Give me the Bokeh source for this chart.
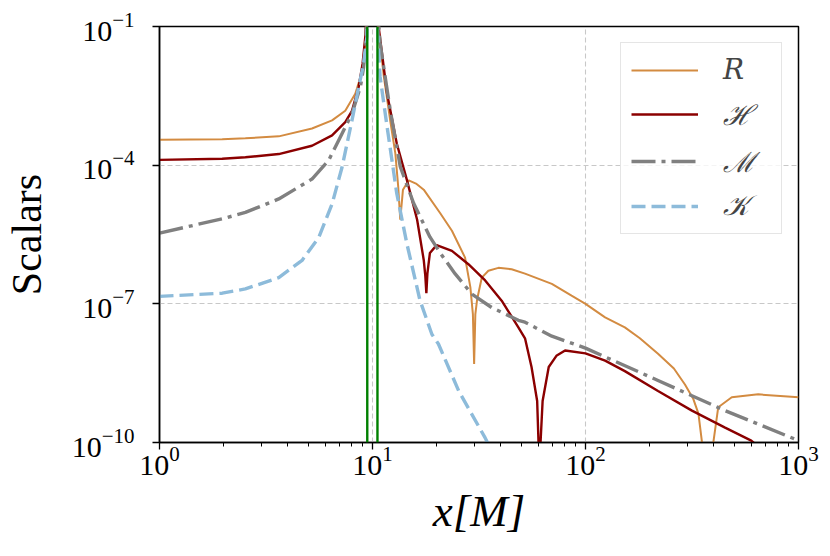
from bokeh.plotting import figure
from bokeh.models import FixedTicker, LogTickFormatter, Span, Legend, LegendItem
from bokeh.embed import file_html
from bokeh.resources import INLINE

# ---- data ----
r_x = [1.0, 1.97, 2.53, 3.63, 5.2, 6.46, 7.45, 8.3, 8.77, 9.08, 9.3, 9.45, 9.5,
       10.5, 10.65, 11.3, 12.1, 12.8, 13.2, 13.5, 13.9, 14.8, 16.0, 17.4, 20.8, 23.6, 27.2,
       28.8, 29.6, 30.0, 30.4, 31.0, 32.6, 35.0, 39.0, 45.0, 52.0, 69.5, 86.0, 100.0, 123.6,
       153.0, 180.0, 219.0, 260.0, 293.0, 320.0, 339.0, 364.0, 384.0, 420.0, 486.0, 647.0,
       1000.0]
r_y = [3.55e-4, 3.65e-4, 3.8e-4, 4.2e-4, 6.2e-4, 9.3e-4, 1.5e-3, 3.5e-3, 7.9e-3, 1.8e-2, 5.0e-2,
       0.3, 1.0,
       1.0, 1.0e-1, 8.3e-3, 9.5e-4, 1.8e-4, 3.5e-5, 6.6e-6, 2.95e-5, 4.7e-5, 4.0e-5, 2.95e-5,
       9.1e-6, 3.8e-6, 1.0e-6, 2.3e-7, 6.0e-8, 5.0e-9, 6.0e-8, 1.26e-7, 3.7e-7, 5.2e-7, 6.0e-7,
       5.6e-7, 4.5e-7, 2.7e-7, 1.5e-7, 1.0e-7, 5.1e-8, 3.1e-8, 1.8e-8, 8.3e-9, 4.0e-9, 1.8e-9,
       9.0e-10, 4.2e-10, 3.0e-11, 3.0e-11, 5.8e-10, 9.5e-10, 1.1e-9, 9.5e-10]

h_x = [1.0, 1.97, 2.53, 3.63, 5.2, 6.46, 7.45, 8.01, 8.61, 8.98, 9.25, 9.4, 9.5,
       10.5, 10.68, 11.7, 13.0, 14.5, 16.2, 17.4, 17.7, 17.9, 18.1, 18.6, 20.0, 23.6, 28.2,
       33.8, 40.4, 48.4, 52.0, 55.8, 59.3, 60.7, 62.9, 67.2, 73.0, 80.2, 100.0, 123.6, 153.0,
       219.0, 316.0, 452.0, 600.0, 650.0]
h_y = [1.3e-4, 1.38e-4, 1.48e-4, 1.74e-4, 2.63e-4, 4.4e-4, 8.5e-4, 1.5e-3, 4.9e-3, 1.55e-2,
       6.0e-2, 0.3, 1.0,
       1.0, 1.0e-1, 3.6e-3, 2.95e-4, 4.8e-5, 6.6e-6, 8.9e-7, 4.0e-7, 1.7e-7, 4.5e-7, 1.26e-6,
       1.86e-6, 1.4e-6, 7.2e-7, 3.2e-7, 1.17e-7, 3.1e-8, 1.8e-8, 4.3e-9, 7.9e-10, 3.0e-11,
       7.9e-10, 4.3e-9, 7.5e-9, 9.8e-9, 8.5e-9, 5.9e-9, 3.5e-9, 1.3e-9, 4.9e-10, 2.1e-10,
       1.1e-10, 8.0e-11]

m_x = [1.0, 1.97, 2.53, 3.63, 5.2, 6.22, 7.19, 8.01, 8.77, 9.08, 9.3, 9.42, 9.5,
       10.5, 10.6, 10.85, 12.1, 13.5, 15.6, 18.6, 20.8, 24.4, 29.3, 36.3, 39.0, 48.4, 52.0,
       69.5, 100.0, 123.6, 219.0, 452.0, 1000.0]
m_y = [3.4e-6, 6.9e-6, 9.5e-6, 1.86e-5, 5.0e-5, 1.26e-4, 4.8e-4, 1.3e-3, 4.9e-3, 1.3e-2, 4.0e-2,
       0.2, 1.0,
       1.0, 0.2, 4.4e-2, 1.6e-3, 9.3e-5, 1.5e-5, 2.8e-6, 1.26e-6, 4.5e-7, 1.62e-7, 8.3e-8,
       7.1e-8, 4.4e-8, 4.0e-8, 2.0e-8, 1.1e-8, 7.1e-9, 2.2e-9, 4.9e-10, 1.1e-10]

k_x = [1.0, 1.97, 2.53, 3.63, 4.67, 5.6, 6.46, 7.19, 8.01, 8.61, 9.08, 9.3, 9.42, 9.5,
       10.5, 10.6, 10.85, 11.7, 13.0, 14.5, 16.7, 19.0, 20.4, 25.4, 33.8, 35.0]
k_y = [1.45e-7, 1.7e-7, 2.1e-7, 3.7e-7, 8.7e-7, 2.75e-6, 1.45e-5, 8.9e-5, 9.3e-4, 4.9e-3,
       1.55e-2, 4.0e-2, 6.0e-2, 1.0,
       1.0, 6.0e-2, 8.3e-3, 6.9e-4, 2.45e-5, 2.0e-6, 1.2e-7, 2.2e-8, 1.35e-8, 1.3e-9,
       1.26e-10, 9.0e-11]

green_x = [9.45, 10.55]

x_ticks = [1, 10, 100, 1000]
x_minor = [2, 3, 4, 5, 6, 7, 8, 9, 20, 30, 40, 50, 60, 70, 80, 90,
           200, 300, 400, 500, 600, 700, 800, 900]
y_ticks = [1e-10, 1e-7, 1e-4, 1e-1]

labels = ["R", "ℋ", "ℳ", "𝒦"]

SERIF = "Liberation Serif"

p = figure(frame_width=639, frame_height=416,
           x_axis_type="log", y_axis_type="log",
           x_range=(1, 1000), y_range=(1e-10, 1e-1),
           output_backend="svg", toolbar_location=None,
           min_border_left=154, min_border_right=27,
           min_border_top=26, min_border_bottom=106)

p.background_fill_color = "white"
p.border_fill_color = "white"
p.outline_line_color = "black"
p.outline_line_width = 1.5
p.outline_line_alpha = 1.0

p.xaxis.ticker = FixedTicker(ticks=x_ticks, minor_ticks=x_minor)
p.yaxis.ticker = FixedTicker(ticks=y_ticks, minor_ticks=[])
p.xaxis.formatter = LogTickFormatter()
p.yaxis.formatter = LogTickFormatter()

for ax in (p.xaxis[0], p.yaxis[0]):
    ax.axis_line_color = "black"
    ax.axis_line_width = 1.5
    ax.major_tick_line_color = "black"
    ax.major_tick_line_width = 1.3
    ax.major_tick_out = 7
    ax.major_tick_in = 0
    ax.minor_tick_line_color = "black"
    ax.minor_tick_line_width = 1.0
    ax.minor_tick_out = 4
    ax.minor_tick_in = 0
    ax.major_label_text_font = SERIF
    ax.major_label_text_font_size = "30px"
    ax.major_label_text_color = "black"
    ax.axis_label_text_font = SERIF
    ax.axis_label_text_color = "black"

p.xaxis.major_label_standoff = -3
p.yaxis.major_label_standoff = 18
p.xaxis.axis_label = "x[M]"
p.xaxis.axis_label_text_font_style = "italic"
p.xaxis.axis_label_text_font_size = "45px"
p.xaxis.axis_label_standoff = 8
p.yaxis.axis_label = "Scalars"
p.yaxis.axis_label_text_font_style = "normal"
p.yaxis.axis_label_text_font_size = "42px"
p.yaxis.axis_label_standoff = 19

p.xgrid.ticker = FixedTicker(ticks=[10, 100])
p.ygrid.ticker = FixedTicker(ticks=[1e-7, 1e-4])
for g in (p.xgrid[0], p.ygrid[0]):
    g.grid_line_color = "#c8c8c8"
    g.grid_line_width = 1.1
    g.grid_line_dash = "5 3"

rr = p.line(r_x, r_y, line_color="#D38B41", line_width=2.0)
hh = p.line(h_x, h_y, line_color="#8B0000", line_width=2.4)
mm = p.line(m_x, m_y, line_color="#808080", line_width=3.4, line_dash="24 6 4 6")
kk = p.line(k_x, k_y, line_color="#8DBBDA", line_width=3.4, line_dash="14 6")

for gx in green_x:
    p.add_layout(Span(location=gx, dimension="height", line_color="green", line_width=2.4))

legend = Legend(items=[LegendItem(label=labels[0], renderers=[rr]),
                       LegendItem(label=labels[1], renderers=[hh]),
                       LegendItem(label=labels[2], renderers=[mm]),
                       LegendItem(label=labels[3], renderers=[kk])],
                location="top_right")
legend.margin = 16
legend.padding = 10
legend.spacing = 9
legend.glyph_width = 67
legend.glyph_height = 24
legend.label_height = 24
legend.label_width = 48
legend.label_standoff = 25
legend.label_text_font = "DejaVu Serif"
legend.label_text_font_style = "italic"
legend.label_text_font_size = "28px"
legend.border_line_color = "#cccccc"
legend.border_line_width = 1.2
legend.background_fill_color = "white"
legend.background_fill_alpha = 0.8
p.add_layout(legend)

open("out.html", "w").write(file_html(p, INLINE))
